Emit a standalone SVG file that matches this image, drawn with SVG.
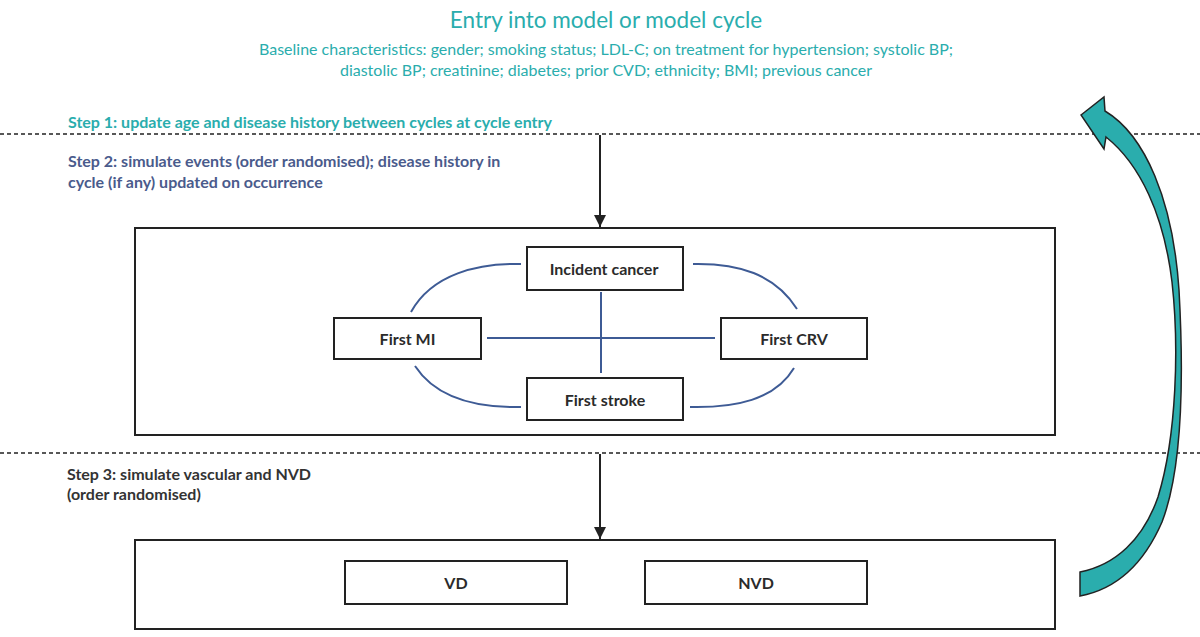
<svg xmlns="http://www.w3.org/2000/svg" width="1200" height="637" viewBox="0 0 1200 637">
  <defs>
    <style>
      .title { font-family: Lato, "Open Sans", sans-serif; fill: #2aadad; text-anchor: middle; }
      .step { font-family: Lato, "Open Sans", sans-serif; font-weight: bold; font-size: 16px; }
      .node rect { fill: #ffffff; stroke: #222222; stroke-width: 2; }
      .node text { font-family: Lato, "Open Sans", sans-serif; font-weight: bold; font-size: 16px; fill: #2b2b2b; text-anchor: middle; dominant-baseline: central; }
      .frame { fill: none; stroke: #222222; stroke-width: 2; }
      .dash { stroke: #222222; stroke-width: 1.5; stroke-dasharray: 4 3; }
      .link { fill: none; stroke: #3e5b95; stroke-width: 2; }
      .flow { fill: none; stroke: #222222; stroke-width: 2; marker-end: url(#head); }
    </style>
    <marker id="head" viewBox="0 0 10 10" refX="10" refY="5" markerWidth="6" markerHeight="6" markerUnits="strokeWidth" orient="auto">
      <path d="M0,0 L10,5 L0,10 Z" fill="#222222"/>
    </marker>
  </defs>

  <rect width="1200" height="637" fill="#ffffff"/>

  <!-- header -->
  <text class="title" x="606" y="28" font-size="22.5">Entry into model or model cycle</text>
  <text class="title" x="606" y="55" font-size="16">Baseline characteristics: gender; smoking status; LDL-C; on treatment for hypertension; systolic BP;</text>
  <text class="title" x="606" y="76" font-size="16">diastolic BP; creatinine; diabetes; prior CVD; ethnicity; BMI; previous cancer</text>

  <!-- step labels -->
  <text class="step" x="68" y="128" fill="#2aadad">Step 1: update age and disease history between cycles at cycle entry</text>
  <text class="step" x="68" y="167" fill="#4a5b8c">Step 2: simulate events (order randomised); disease history in</text>
  <text class="step" x="68" y="188" fill="#4a5b8c">cycle (if any) updated on occurrence</text>
  <text class="step" x="67" y="480" fill="#333333">Step 3: simulate vascular and NVD</text>
  <text class="step" x="67" y="500" fill="#333333">(order randomised)</text>

  <!-- separators -->
  <line class="dash" x1="0" y1="134" x2="1200" y2="134"/>
  <line class="dash" x1="0" y1="453" x2="1200" y2="453"/>

  <!-- stage frames -->
  <rect class="frame" x="135" y="228" width="920" height="207"/>
  <rect class="frame" x="135" y="540" width="920" height="89"/>

  <!-- connectors -->
  <g id="connectors">
    <line class="flow" x1="600" y1="135" x2="600" y2="227"/>
    <line class="flow" x1="600" y1="454" x2="600" y2="539"/>
    <line class="link" x1="487" y1="338" x2="715" y2="338"/>
    <line class="link" x1="601" y1="292" x2="601" y2="373"/>
    <path class="link" d="M411,312 C432,274 478,263 521,264"/>
    <path class="link" d="M693,264 C738,263 775,274 797,309"/>
    <path class="link" d="M794,368 C775,400 735,408 690,407"/>
    <path class="link" d="M415,366 C436,398 476,408 521,407"/>
    <!-- return loop to the next cycle -->
    <path d="M1081,115 L1104,97 L1105,111 C1145,135 1173,200 1179,290 C1184,380 1182,470 1162,522 C1142,568 1112,590 1080,596 L1080,572 C1115,565 1143,540 1158,497 C1177,435 1179,345 1172,282 C1164,215 1140,164 1106,137 L1104,149 Z" fill="#2aadad" stroke="#222222" stroke-width="1.5" stroke-linejoin="miter"/>
  </g>

  <!-- event nodes -->
  <g id="incident-cancer" class="node">
    <rect x="527" y="247" width="156" height="43"/>
    <text x="604" y="268.5">Incident cancer</text>
  </g>
  <g id="first-mi" class="node">
    <rect x="334" y="318" width="147" height="41"/>
    <text x="407.5" y="338.5">First MI</text>
  </g>
  <g id="first-crv" class="node">
    <rect x="721" y="318" width="146" height="41"/>
    <text x="794" y="338.5">First CRV</text>
  </g>
  <g id="first-stroke" class="node">
    <rect x="527" y="378" width="156" height="42"/>
    <text x="605" y="399">First stroke</text>
  </g>

  <!-- death nodes -->
  <g id="vd" class="node">
    <rect x="345" y="561" width="222" height="43"/>
    <text x="456" y="582.5">VD</text>
  </g>
  <g id="nvd" class="node">
    <rect x="645" y="561" width="222" height="43"/>
    <text x="756" y="582.5">NVD</text>
  </g>
</svg>
